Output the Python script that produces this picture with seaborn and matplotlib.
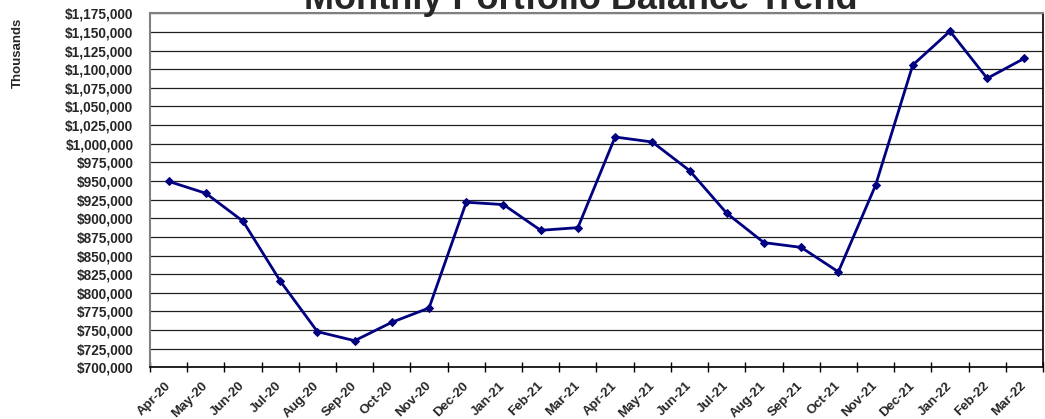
import numpy as np
import pandas as pd
import matplotlib
matplotlib.use("Agg")
import matplotlib.pyplot as plt
import seaborn as sns
from matplotlib.ticker import FuncFormatter, FixedLocator

months = ["Apr-20", "May-20", "Jun-20", "Jul-20", "Aug-20", "Sep-20", "Oct-20", "Nov-20",
          "Dec-20", "Jan-21", "Feb-21", "Mar-21", "Apr-21", "May-21", "Jun-21", "Jul-21",
          "Aug-21", "Sep-21", "Oct-21", "Nov-21", "Dec-21", "Jan-22", "Feb-22", "Mar-22"]
balance = [949500, 933500, 896000, 815800, 747800, 735700, 760400, 779600,
           921500, 918300, 883800, 887400, 1009000, 1002300, 964000, 906700,
           867300, 860900, 828100, 944200, 1105600, 1151000, 1087700, 1114600]
y_ticks = list(range(700000, 1175001, 25000))

title = "Monthly Portfolio Balance Trend"
y_label = "Thousands"

sns.set_theme(style="white")
plt.rcParams['font.family'] = ['Liberation Sans', 'DejaVu Sans']

fig = plt.figure(figsize=(10.45, 4.19), dpi=100)
ax = fig.add_axes([150/1045, 1 - 367.3/419, (1043 - 150)/1045, (367.3 - 13.3)/419])

df = pd.DataFrame({"month": months, "balance": balance, "pos": np.arange(len(months))})
sns.lineplot(data=df, x="pos", y="balance", ax=ax, color="#000080", linewidth=2.0,
             marker="D", markersize=4.5, markeredgecolor="#000080", sort=False)

ax.set_xlim(-0.5, len(months) - 0.5)
ax.set_ylim(y_ticks[0], y_ticks[-1])
ax.yaxis.set_major_locator(FixedLocator(y_ticks))
ax.yaxis.set_major_formatter(FuncFormatter(lambda v, p: f"${v:,.0f}"))
ax.set_xticks(np.arange(len(months)))
ax.set_xticklabels(months, rotation=45, ha="right", va="center", rotation_mode="anchor",
                   fontweight="bold", fontsize=9.5)
ax.set_xticks(np.arange(len(months) + 1) - 0.5, minor=True)
ax.tick_params(axis="x", which="major", length=0, pad=12)
ax.tick_params(axis="x", which="minor", length=7, direction="inout", width=1, color="black", bottom=True)
ax.tick_params(axis="y", length=0, pad=12, labelsize=9.8)
for lab in ax.get_yticklabels():
    lab.set_fontweight("bold")

ax.grid(axis="y", color="#202020", linewidth=0.9)
ax.set_axisbelow(True)
ax.set_xlabel("")
ax.set_ylabel("")
for s in ["left", "top"]:
    ax.spines[s].set_color("#808080")
    ax.spines[s].set_linewidth(1.5)
for s in ["right", "bottom"]:
    ax.spines[s].set_color("black")
    ax.spines[s].set_linewidth(1.2)

fig.text(581/1045, 1 - 9/419, title, ha="center", va="baseline", fontsize=26, fontweight="bold")
fig.text(18/1045, 1 - 53/419, y_label, ha="center", va="center", rotation=90, fontsize=9.5, fontweight="bold")

fig.savefig("out.png", dpi=100)
